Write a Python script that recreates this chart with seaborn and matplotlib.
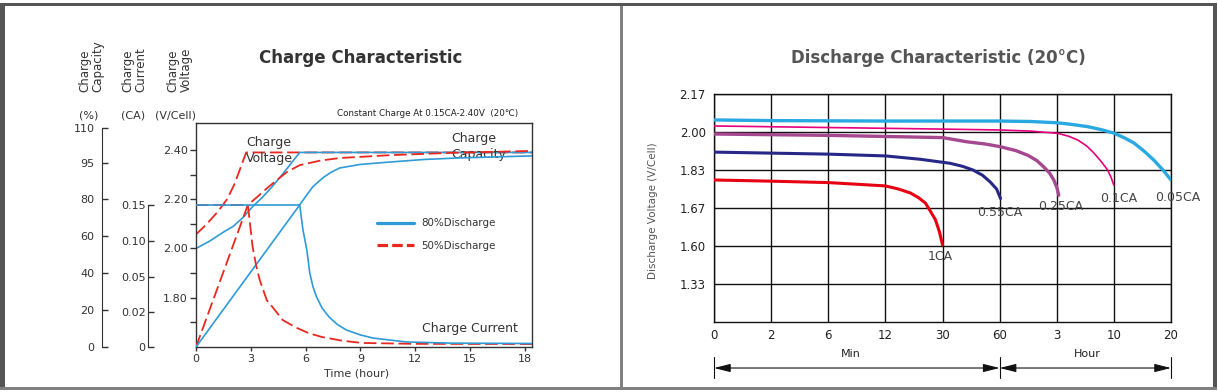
import numpy as np
import matplotlib
matplotlib.use("Agg")
import matplotlib.pyplot as plt
from matplotlib.patches import Rectangle
import seaborn as sns

W, H = 1218, 392

# ---------------- charge characteristic (left) ----------------
# time in hours
t_volt_80 = [0, 0.75, 1.49, 2.04, 2.59, 3.1, 3.6, 4.1, 4.59, 5.15, 5.68, 18.4]
v_volt_80 = [2.00, 2.03, 2.066, 2.09, 2.127, 2.17, 2.205, 2.245, 2.288, 2.34, 2.39, 2.39]
t_volt_50 = [0, 0.6, 1.2, 1.7, 2.1, 2.45, 2.75, 18.4]
v_volt_50 = [2.057, 2.10, 2.15, 2.20, 2.26, 2.33, 2.39, 2.39]

t_cap_80 = [0, 5.68, 6.0, 6.39, 6.94, 7.4, 7.87, 9.0, 10.6, 12.5, 14.3, 16.5, 18.4]
c_cap_80 = [0, 76.8, 81, 85.1, 88.9, 91.3, 93.1, 94.6, 95.6, 96.7, 97.3, 97.8, 98.2]
t_cap_50 = [0, 2.84, 3.3, 3.88, 4.43, 5.0, 5.68, 6.8, 7.87, 10.6, 14.0, 18.4]
c_cap_50 = [0, 76.8, 80.5, 84.5, 88, 91.5, 94.3, 96.2, 97.3, 98.5, 99.5, 100.3]

t_cur_80 = [0, 5.68, 5.86, 6.07, 6.23, 6.4, 6.6, 6.9, 7.3, 7.75, 8.24, 9.0, 9.7, 11.5, 14.0, 18.4]
i_cur_80 = [0.15, 0.15, 0.115, 0.0875, 0.0557, 0.042, 0.033, 0.0235, 0.017, 0.0128, 0.0097,
            0.0069, 0.0051, 0.0029, 0.0022, 0.002]
t_cur_50 = [0, 2.84, 3.1, 3.3, 3.5, 3.88, 4.2, 4.75, 5.5, 6.2, 6.9, 8.0, 9.1, 12.0, 18.4]
i_cur_50 = [0.15, 0.15, 0.092, 0.065, 0.047, 0.030, 0.024, 0.0154, 0.011, 0.0078, 0.0057,
            0.0036, 0.0023, 0.0018, 0.0017]

volt_ticks = [1.80, 2.00, 2.20, 2.40]
volt_minor = [1.70, 1.90, 2.10, 2.30]
cap_ticks = [0, 20, 40, 60, 80, 95, 110]
cur_ticks = [0, 0.02, 0.05, 0.10, 0.15]
cur_labels = ["0", "0.02", "0.05", "0.10", "0.15"]
hour_ticks = [0, 3, 6, 9, 12, 15, 18]

# ---------------- discharge characteristic (right) ----------------
# time in minutes
min_ticks = [0, 2, 6, 12, 30, 60, 180, 600, 1200]
min_labels = ["0", "2", "6", "12", "30", "60", "3", "10", "20"]
dv_ticks = [1.33, 1.60, 1.67, 1.83, 2.00, 2.17]

m_005 = [0, 2, 12, 60, 125, 188, 283, 407, 504, 600, 705, 810, 916, 1020, 1116, 1200]
v_005 = [2.054, 2.051, 2.049, 2.049, 2.047, 2.041, 2.0345, 2.024, 2.011, 1.995, 1.975,
         1.951, 1.915, 1.874, 1.83, 1.788]
m_01 = [0, 6, 30, 62, 125, 188, 268, 335, 401, 453, 504, 554, 578, 600]
v_01 = [2.027, 2.020, 2.013, 2.009, 2.004, 1.994, 1.981, 1.964, 1.937, 1.906, 1.870, 1.83,
        1.801, 1.766]
m_025 = [0, 6, 30, 43, 52.6, 62, 93.7, 119, 138, 152.6, 165, 173.7, 180, 194.7]
v_025 = [1.991, 1.985, 1.975, 1.956, 1.946, 1.934, 1.917, 1.896, 1.8725, 1.844, 1.817, 1.788,
         1.758, 1.724]
m_055 = [0, 6, 12, 23, 34, 40.5, 46, 51, 55, 58.4, 62]
v_055 = [1.910, 1.901, 1.893, 1.878, 1.860, 1.8465, 1.830, 1.808, 1.780, 1.75, 1.71]
m_1 = [0, 2, 6, 12, 16.1, 19.9, 22.4, 24.6, 26.2, 27.8, 29.05, 30]
v_1 = [1.788, 1.783, 1.777, 1.763, 1.75, 1.733, 1.714, 1.691, 1.664, 1.648, 1.6258, 1.602]

rates = ["1CA", "0.55CA", "0.25CA", "0.1CA", "0.05CA"]
rate_label_pos = [(29.3, 1.522), (60.5, 1.661), (209, 1.675), (654, 1.712), (1272, 1.716)]

BLUE = "#2E9BD6"
RED = "#E8281E"
TXT = "#333333"

sns.set_style("ticks")
plt.rcParams['font.family'] = ['DejaVu Sans']


def fx(px):
    return px / W


def fy(py):
    return 1 - py / H


def piecewise(xp, fp):
    xp = np.asarray(xp, float)
    fp = np.asarray(fp, float)
    return (lambda v: np.interp(v, xp, fp), lambda p: np.interp(p, fp, xp))


fig = plt.figure(figsize=(W / 100, H / 100), dpi=100)

# ---- left panel ----
ax = fig.add_axes([fx(196), fy(347), fx(532) - fx(196), fy(123) - fy(347)])
ax_cap = ax.twinx()
ax_cur = ax.twinx()

dash = (0, (7, 2.6))
sns.lineplot(x=t_volt_50, y=v_volt_50, ax=ax, color=RED, lw=1.3, linestyle=dash, label="50%Discharge")
sns.lineplot(x=t_volt_80, y=v_volt_80, ax=ax, color=BLUE, lw=1.2, label="80%Discharge")
sns.lineplot(x=t_cap_50, y=c_cap_50, ax=ax_cap, color=RED, lw=1.3, linestyle=dash)
sns.lineplot(x=t_cap_80, y=c_cap_80, ax=ax_cap, color=BLUE, lw=1.2)
sns.lineplot(x=t_cur_50, y=i_cur_50, ax=ax_cur, color=RED, lw=1.3, linestyle=dash)
sns.lineplot(x=t_cur_80, y=i_cur_80, ax=ax_cur, color=BLUE, lw=1.2)

ax.set_xlim(0, 18.4)
ax.set_ylim(1.60, 2.5095)
ax.set_xticks(hour_ticks)
ax.set_xticklabels([str(h) for h in hour_ticks])
ax.set_yticks(volt_ticks)
ax.set_yticklabels([f"{v:.2f}" for v in volt_ticks])
ax.set_yticks(volt_minor, minor=True)
ax.tick_params(axis="both", which="both", direction="out", length=4, width=1,
               colors=TXT, labelsize=8, pad=2)
ax.tick_params(axis="x", length=3, pad=2)
for s in ax.spines.values():
    s.set_color(TXT)
    s.set_linewidth(1)

ax_cap.set_yscale("function", functions=piecewise([0, 80, 120], [0, 148, 242.67]))
ax_cap.set_ylim(0, 112.1)
ax_cap.set_yticks(cap_ticks)
ax_cap.set_yticklabels([str(c) for c in cap_ticks])
ax_cap.yaxis.set_minor_locator(matplotlib.ticker.NullLocator())

ax_cur.set_yscale("function", functions=piecewise([0, 0.02, 0.05, 0.10, 0.15, 0.30],
                                                  [0, 35, 70, 106, 142, 250]))
ax_cur.set_ylim(0, 0.2639)
ax_cur.set_yticks(cur_ticks)
ax_cur.set_yticklabels(cur_labels)
ax_cur.yaxis.set_minor_locator(matplotlib.ticker.NullLocator())

for tw, off, top, pad in [(ax_cap, 67.9, 110, 5), (ax_cur, 34.3, 0.15, 2)]:
    tw.yaxis.tick_left()
    for side in ["top", "right", "bottom"]:
        tw.spines[side].set_visible(False)
    tw.spines["left"].set_visible(True)
    tw.spines["left"].set_position(("outward", off))
    tw.spines["left"].set_bounds(0, top)
    tw.spines["left"].set_color(TXT)
    tw.tick_params(axis="y", direction="in", length=4, width=1, colors=TXT,
                   labelsize=8, pad=pad)
    tw.set_ylabel("")

# legend: 80% first, then 50%
h_objs, lbls = ax.get_legend_handles_labels()
leg = ax.legend([h_objs[1], h_objs[0]], [lbls[1], lbls[0]], loc="upper left",
                bbox_to_anchor=(0.539, 0.575), frameon=False, fontsize=7.4,
                handlelength=3.55, handletextpad=0.7, labelspacing=1.25,
                borderaxespad=0, borderpad=0)
for line in leg.get_lines():
    line.set_linewidth(2.3)
leg.get_lines()[1].set_dashes((3.3, 1.3))
for t in leg.get_texts():
    t.set_color(TXT)

ax.text(2.74, 2.455, "Charge\nVoltage", ha="left", va="top", fontsize=9, color=TXT,
        linespacing=1.3)
ax.text(14.0, 2.471, "Charge\nCapacity", ha="left", va="top", fontsize=9, color=TXT,
        linespacing=1.3)
ax.text(12.38, 1.677, "Charge Current", ha="left", va="center", fontsize=9, color=TXT)

fig.text(fx(361), fy(58), "Charge Characteristic", ha="center", va="center",
         fontsize=12, fontweight="bold", color="#333333")
fig.text(fx(518), fy(114), "Constant Charge At 0.15CA-2.40V  (20\u2103)", ha="right",
         va="center", fontsize=6.3, color="#222222")
fig.text(fx(357), fy(374), "Time (hour)", ha="center", va="center", fontsize=8, color=TXT)
for xc, name, unit, ux in [(91.5, "Charge\nCapacity", "(%)", 88.5),
                           (134, "Charge\nCurrent", "(CA)", 133),
                           (179.5, "Charge\nVoltage", "(V/Cell)", 176)]:
    fig.text(fx(xc), fy(92), name, rotation=90, ha="center", va="bottom",
             multialignment="left", fontsize=8.5, color=TXT, linespacing=1.0)
    fig.text(fx(ux), fy(115), unit, ha="center", va="center", fontsize=8, color=TXT)

# ---- right panel ----
ax2 = fig.add_axes([fx(714), fy(322), fx(1171) - fx(714), fy(94) - fy(322)])
curves = [(m_005, v_005, "#29A9E1", 2.4), (m_01, v_01, "#E5007E", 1.2),
          (m_025, v_025, "#A5488F", 2.4), (m_055, v_055, "#262786", 2.2),
          (m_1, v_1, "#E60012", 2.2)]
for mx, vy, col, lw in curves:
    sns.lineplot(x=mx, y=vy, ax=ax2, color=col, lw=lw, zorder=3)

ax2.set_xscale("function", functions=piecewise(min_ticks + [1800], range(10)))
ax2.set_yscale("function", functions=piecewise([1.06] + dv_ticks + [2.34], range(8)))
ax2.set_xlim(0, 1200)
ax2.set_ylim(1.06, 2.17)
ax2.set_xticks(min_ticks)
ax2.set_xticklabels(min_labels)
ax2.set_yticks(dv_ticks)
ax2.set_yticklabels([f"{v:.2f}" for v in dv_ticks])
ax2.xaxis.set_minor_locator(matplotlib.ticker.NullLocator())
ax2.yaxis.set_minor_locator(matplotlib.ticker.NullLocator())
ax2.grid(True, color="#111111", lw=1.0)
ax2.tick_params(axis="both", length=0, labelsize=8.5, colors="#222222")
ax2.tick_params(axis="x", pad=5)
ax2.tick_params(axis="y", pad=6)
for s in ax2.spines.values():
    s.set_color("#111111")
    s.set_linewidth(1.0)

for name, (px, py) in zip(rates, rate_label_pos):
    ax2.text(px, py, name, ha="center", va="center", fontsize=9, color="#444444",
             clip_on=False)

ax2.text(-0.1335, 0.49, "Discharge Voltage (V/Cell)", transform=ax2.transAxes,
         rotation=90, ha="center", va="center", fontsize=7.5, color="#555555")

xt = ax2.get_xaxis_transform()
for x0, x1 in [(0, 60), (60, 1200)]:
    ax2.annotate("", xy=(x1, -0.2018), xytext=(x0, -0.2018), xycoords=xt, textcoords=xt,
                 arrowprops=dict(arrowstyle="<|-|>,head_length=1.0,head_width=0.25",
                                 color="#111111", lw=0.8, shrinkA=0, shrinkB=0,
                                 mutation_scale=10))
for xb in [0, 60, 1200]:
    ax2.plot([xb, xb], [-0.1535, -0.2456], transform=xt, color="#111111", lw=0.8,
             clip_on=False)
ax2.text(0.30, -0.142, "Min", transform=ax2.transAxes, ha="center", va="center",
         fontsize=8, color="#222222")
ax2.text(0.816, -0.142, "Hour", transform=ax2.transAxes, ha="center", va="center",
         fontsize=8, color="#222222")

fig.text(fx(938), fy(58), "Discharge Characteristic (20\u00b0C)", ha="center", va="center",
         fontsize=12, fontweight="bold", color="#555555")

# ---- page frame ----
for x0, y0, x1, y1, col in [(0, 3, 1216.5, 6, "#555555"), (0, 3, 5, 390, "#555555"),
                            (1212.5, 3, 1216.5, 390, "#555555"),
                            (0, 387, 1216.5, 390, "#808080"),
                            (620, 6, 623, 390, "#808080")]:
    fig.add_artist(Rectangle((fx(x0), fy(y1)), (x1 - x0) / W, (y1 - y0) / H,
                             transform=fig.transFigure, color=col, lw=0))

fig.savefig("out.png", dpi=100)
